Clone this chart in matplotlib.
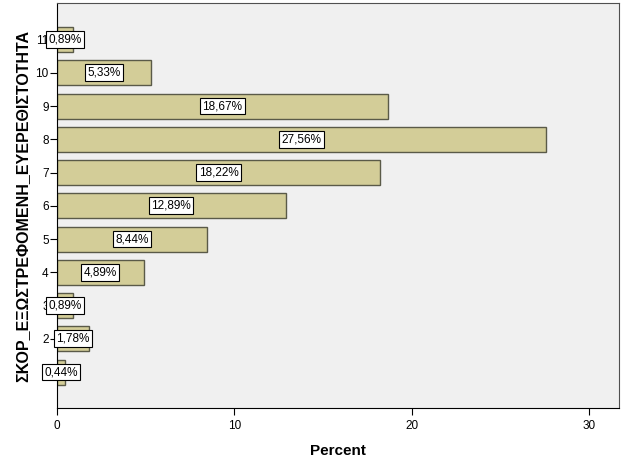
import matplotlib
matplotlib.use("Agg")
from matplotlib import pyplot as plt

plt.rcParams['font.family'] = ['Liberation Sans', 'DejaVu Sans']

scores = [1, 2, 3, 4, 5, 6, 7, 8, 9, 10, 11]
percent = [0.44, 1.78, 0.89, 4.89, 8.44, 12.89, 18.22, 27.56, 18.67, 5.33, 0.89]
labels = ["0,44%", "1,78%", "0,89%", "4,89%", "8,44%", "12,89%",
          "18,22%", "27,56%", "18,67%", "5,33%", "0,89%"]

fig = plt.figure(figsize=(6.26, 4.69), dpi=100)
ax = fig.add_axes([57 / 626, 1 - 408 / 469, 562 / 626, 405 / 469])
ax.set_facecolor('#f0f0f0')

ax.barh(scores, percent, height=0.75, color='#d3cd98', edgecolor='#5a5a48', linewidth=1)

# value boxes in the middle of each bar
for s, p, l in zip(scores, percent, labels):
    ax.text(p / 2, s, l, ha='center', va='center', fontsize=8.5, zorder=5, clip_on=False,
            bbox=dict(boxstyle='square,pad=0.2', facecolor='white', edgecolor='black', linewidth=0.8))

ax.set_xlim(0, 31.7)
ax.set_ylim(-0.08, 12.1)
ax.set_xticks([0, 10, 20, 30])
ax.set_yticks(scores)
ax.set_yticklabels([str(s) for s in scores])
ax.tick_params(axis='both', labelsize=8.5, length=5, width=0.8, color='black')
ax.tick_params(axis='y', pad=1)

for side in ['top', 'right']:
    ax.spines[side].set_color('#505050')
for side in ['left', 'bottom']:
    ax.spines[side].set_color('black')

ax.set_xlabel('Percent', fontsize=11, fontweight='bold', labelpad=9)
ax.set_ylabel('ΣΚΟΡ_ΕΞΩΣΤΡΕΦΟΜΕΝΗ_ΕΥΕΡΕΘΙΣΤΟΤΗΤΑ', fontsize=11.5, fontweight='bold', labelpad=4)

fig.savefig('out.png', dpi=100)
